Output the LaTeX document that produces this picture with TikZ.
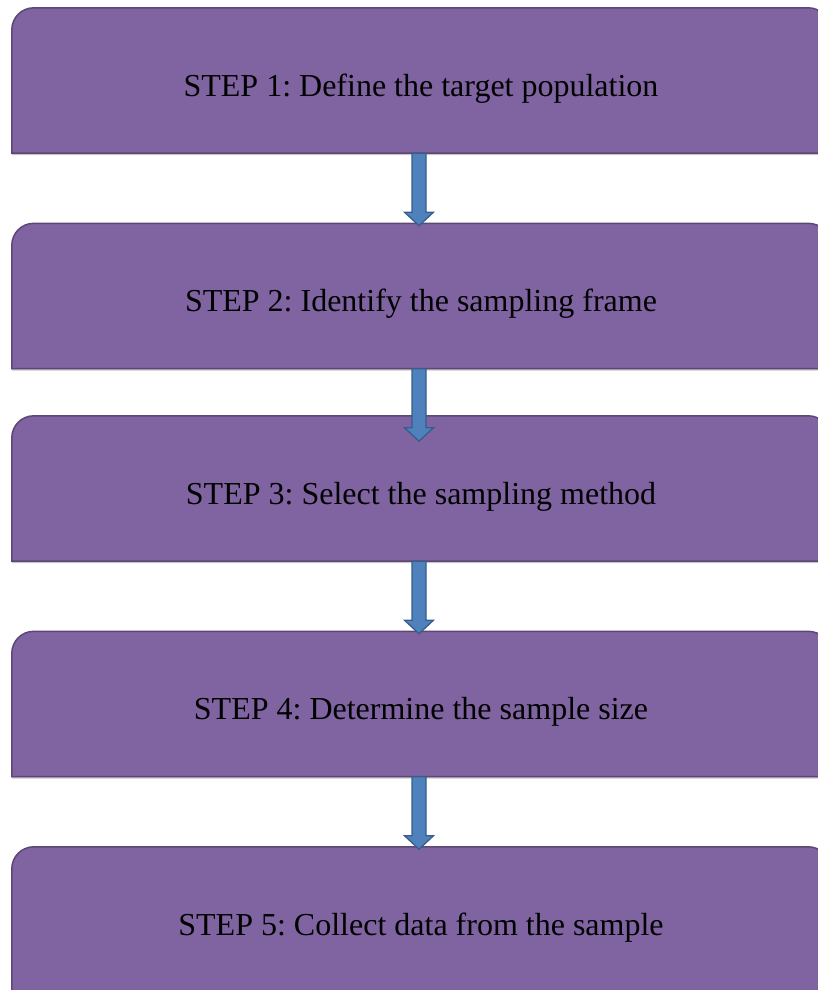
\documentclass[tikz,border=0pt]{standalone}
\usepackage{fontspec}
\setmainfont{Liberation Serif}
\usetikzlibrary{calc}
\definecolor{boxfill}{HTML}{8064A2}
\definecolor{boxline}{HTML}{5C4776}
\definecolor{arrfill}{HTML}{4F81BD}
\definecolor{arrline}{HTML}{385D8A}
\frenchspacing
\begin{document}
\begin{tikzpicture}[x=1pt,y=-1pt,
  boxnode/.style={rectangle, draw=none, minimum width=818pt, minimum height=145pt, inner sep=0pt},
  boxshape/.style={fill=boxfill, draw=boxline, line width=1.5pt},
  boxshadow/.style={fill=black!22, draw=none},
  steptext/.style={font=\fontsize{32}{38}\selectfont\frenchspacing, text=black, inner sep=0pt, anchor=base},
  blockarrow/.style={fill=arrfill, draw=arrline, line width=1.3pt, line join=miter}]
\useasboundingbox (0,0) rectangle (818,990);
\clip (0,0) rectangle (818,990);
\node[boxnode] (b1) at (421,80.5) {};
\node[boxnode] (b2) at (421,296) {};
\node[boxnode] (b3) at (421,488.5) {};
\node[boxnode] (b4) at (421,704) {};
\node[boxnode] (b5) at (421,919.5) {};
\foreach \b in {b1,b2,b3,b4,b5}{
  \fill[boxshadow] ([yshift=-2pt]\b.south west) [rounded corners=22pt] -- ([yshift=-2pt]\b.north west) -- ([yshift=-2pt]\b.north east) [sharp corners] -- ([yshift=-2pt]\b.south east) -- cycle;
  \draw[boxshape] (\b.south west) [rounded corners=22pt] -- (\b.north west) -- (\b.north east) [sharp corners] -- (\b.south east) -- cycle;
}
\node[steptext] (t1) at ([yshift=-15.5pt]b1.center) {STEP 1: Define the target population};
\node[steptext] (t2) at ([yshift=-15.5pt]b2.center) {STEP 2: Identify the sampling frame};
\node[steptext] (t3) at ([yshift=-15.5pt]b3.center) {STEP 3: Select the sampling method};
\node[steptext] (t4) at ([yshift=-15.5pt]b4.center) {STEP 4: Determine the sample size};
\node[steptext] (t5) at ([yshift=-15.5pt]b5.center) {STEP 5: Collect data from the sample};
\foreach \b in {b1,b2,b3,b4}{
  \draw[blockarrow] ([xshift=-2pt]\b.south) ++(-7,0) -- ++(0,59) -- ++(-7.5,0) -- ++(14.5,13.5) -- ++(14.5,-13.5) -- ++(-7.5,0) -- ++(0,-59) -- cycle;
}
\end{tikzpicture}
\end{document}
